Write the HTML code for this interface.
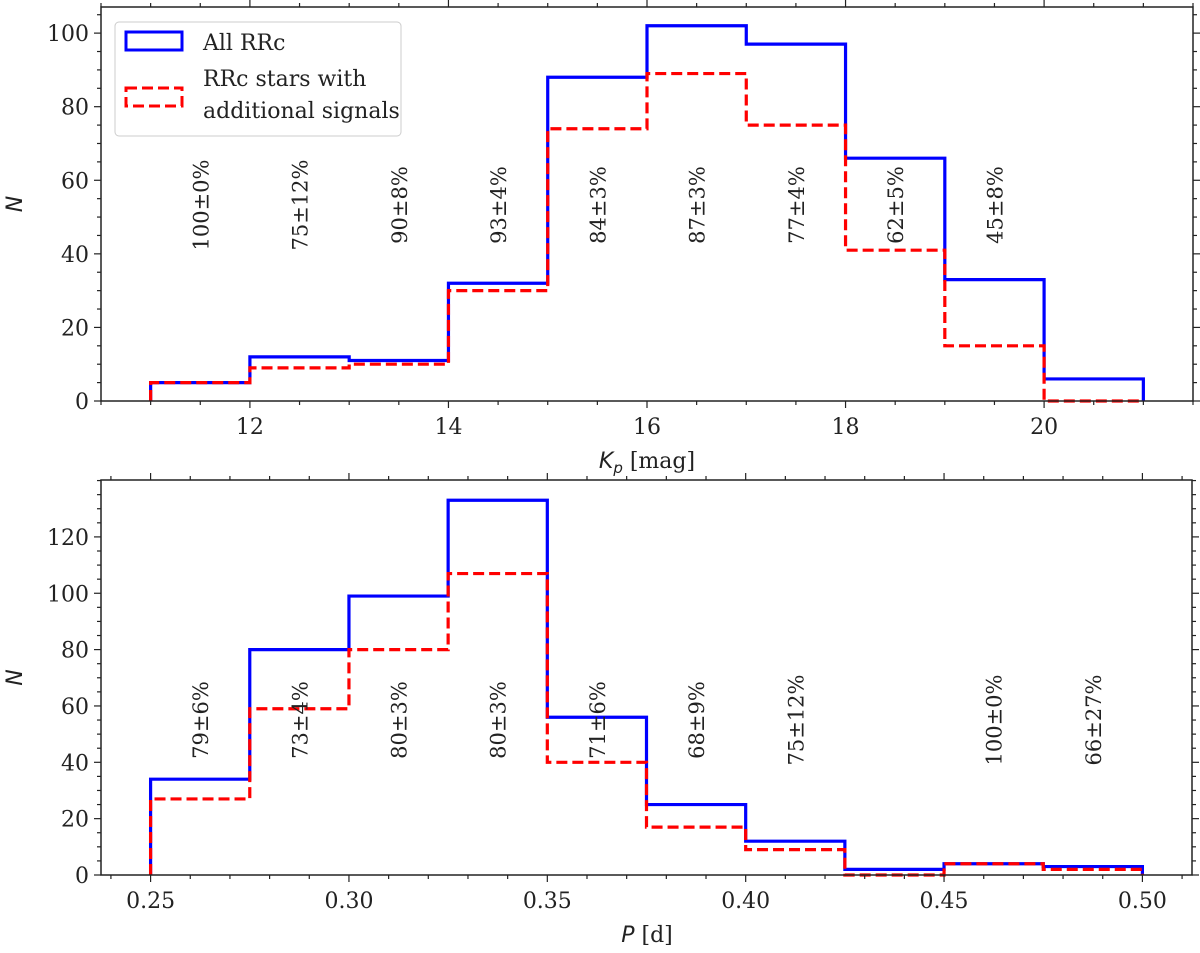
<!DOCTYPE html>
<html><head><meta charset="utf-8"><style>
body{margin:0;background:#fff;width:1200px;height:948px;overflow:hidden}
text{font-family:"DejaVu Serif","Liberation Serif",serif;fill:#222}
</style></head><body>
<svg id="c" width="1200" height="948" xmlns="http://www.w3.org/2000/svg"></svg>
<script>
const kpEdges=[11,12,13,14,15,16,17,18,19,20,21];
const kpAll=[5,12,11,32,88,102,97,66,33,6];
const kpSig=[5,9,10,30,74,89,75,41,15,0];
const kpPct=["100±0%","75±12%","90±8%","93±4%","84±3%","87±3%","77±4%","62±5%","45±8%"];
const pEdges=[0.25,0.275,0.3,0.325,0.35,0.375,0.4,0.425,0.45,0.475,0.5];
const pAll=[34,80,99,133,56,25,12,2,4,3];
const pSig=[27,59,80,107,40,17,9,0,4,2];
const pPct=["79±6%","73±4%","80±3%","80±3%","71±6%","68±9%","75±12%","","100±0%","66±27%"];
const kpTicks=[12,14,16,18,20];
const kpYTicks=[0,20,40,60,80,100];
const pTicks=[0.25,0.30,0.35,0.40,0.45,0.50];
const pYTicks=[0,20,40,60,80,100,120];

const NS="http://www.w3.org/2000/svg",svg=document.getElementById('c');
function el(t,a,p){const e=document.createElementNS(NS,t);for(const k in a)e.setAttribute(k,a[k]);(p||svg).appendChild(e);return e;}

function panel(o){
  const g=el('g',{});
  
  
  const X=v=>o.L+(v-o.x0)/(o.x1-o.x0)*(o.R-o.L);
  const Y=v=>o.B-(v/o.y1)*(o.B-o.T);
  function step(vals,edges,attrs,nm){
    let d=`M${X(edges[0])},${Y(0)}`;
    vals.forEach((v,i)=>{d+=`L${X(edges[i])},${Y(v)}L${X(edges[i+1])},${Y(v)}`;});
    d+=`L${X(edges[edges.length-1])},${Y(0)}`;
    const p=el('path',Object.assign({d,fill:'none'},attrs),g);
    
    
  }
  step(o.all,o.edges,{stroke:'#0000ff','stroke-width':3.2},'all-rrc-histogram');
  step(o.sig,o.edges,{stroke:'#ff0000','stroke-width':3.2,'stroke-dasharray':'11,5'},'signal-rrc-histogram');
  o.pct.forEach((t,i)=>{
    if(!t)return;const cx=(X(o.edges[i])+X(o.edges[i+1]))/2;
    const tx=el('text',{x:0,y:0,transform:`translate(${cx+8},${o.ty}) rotate(-90)`,'text-anchor':'middle','font-size':21},g);
    tx.textContent=t;
    
    
  });
  el('rect',{x:o.L,y:o.T,width:o.R-o.L,height:o.B-o.T,fill:'none',stroke:'#222','stroke-width':1.5},g);
  // ticks
  for(let v=o.x0;v<=o.x1+1e-9;v+=o.xminor){
    const vv=Math.round(v/o.xminor)*o.xminor;if(vv<o.x0-1e-9)continue;
    const major=o.xt.some(t=>Math.abs(t-vv)<1e-6);const len=major?7:4;
    el('line',{x1:X(vv),x2:X(vv),y1:o.B,y2:o.B+len,stroke:'#222','stroke-width':1.2},g);
    el('line',{x1:X(vv),x2:X(vv),y1:o.T,y2:o.T-len,stroke:'#222','stroke-width':1.2},g);
  }
  for(let v=0;v<=o.y1;v+=o.yminor){
    const major=o.yt.includes(v);const len=major?7:4;
    el('line',{x1:o.L,x2:o.L-len,y1:Y(v),y2:Y(v),stroke:'#222','stroke-width':1.2},g);
    el('line',{x1:o.R,x2:o.R+len,y1:Y(v),y2:Y(v),stroke:'#222','stroke-width':1.2},g);
  }
  o.xt.forEach(t=>{const tx=el('text',{x:X(t),y:o.B+33,'text-anchor':'middle','font-size':22},g);tx.textContent=o.fmt(t);
    });
  o.yt.forEach(t=>{const tx=el('text',{x:o.L-12,y:Y(t)+8,'text-anchor':'end','font-size':22},g);tx.textContent=t;
    });
  const yl=el('text',{x:0,y:0,transform:`translate(22,${(o.T+o.B)/2}) rotate(-90)`,'text-anchor':'middle','font-size':22,'font-style':'italic',style:'font-family:"DejaVu Sans",sans-serif'},g);
  yl.textContent='N';
  return g;
}
panel({name:'kp-panel',L:101,R:1193,T:7,B:401,x0:10.5,x1:21.5,y1:107.1,edges:kpEdges,all:kpAll,sig:kpSig,pct:kpPct,ty:205,
  xt:kpTicks,yt:kpYTicks,xminor:0.5,yminor:5,fmt:t=>String(t)});
panel({name:'period-panel',L:101,R:1192,T:480,B:875,x0:0.2375,x1:0.5125,y1:140.2,edges:pEdges,all:pAll,sig:pSig,pct:pPct,ty:720,
  xt:pTicks,yt:pYTicks,xminor:0.01,yminor:5,fmt:t=>t.toFixed(2)});
</script>
<svg style="position:absolute;left:0;top:0" width="1200" height="948">
<g>
<rect x="115" y="22" width="286" height="114" rx="4" fill="#fff" fill-opacity="0.85" stroke="#ccc" stroke-width="1"/>
<rect x="126" y="32" width="56" height="18" fill="none" stroke="#0000ff" stroke-width="3"/>
<text x="203" y="50" font-size="22">All RRc</text>
<rect x="126" y="88" width="56" height="18" fill="none" stroke="#ff0000" stroke-width="3" stroke-dasharray="11,5"/>
<text x="203" y="86" font-size="22">RRc stars with</text>
<text x="203" y="118" font-size="22">additional signals</text>
</g>
<text x="647" y="468" text-anchor="middle" font-size="22"><tspan font-style="italic" style="font-family:'DejaVu Sans',sans-serif">K</tspan><tspan font-style="italic" font-size="15" dy="5" style="font-family:'DejaVu Sans',sans-serif">p</tspan><tspan dy="-5"> [mag]</tspan></text>
<text x="647" y="942" text-anchor="middle" font-size="22"><tspan font-style="italic" style="font-family:'DejaVu Sans',sans-serif">P</tspan><tspan> [d]</tspan></text>
</svg>
</body></html>
